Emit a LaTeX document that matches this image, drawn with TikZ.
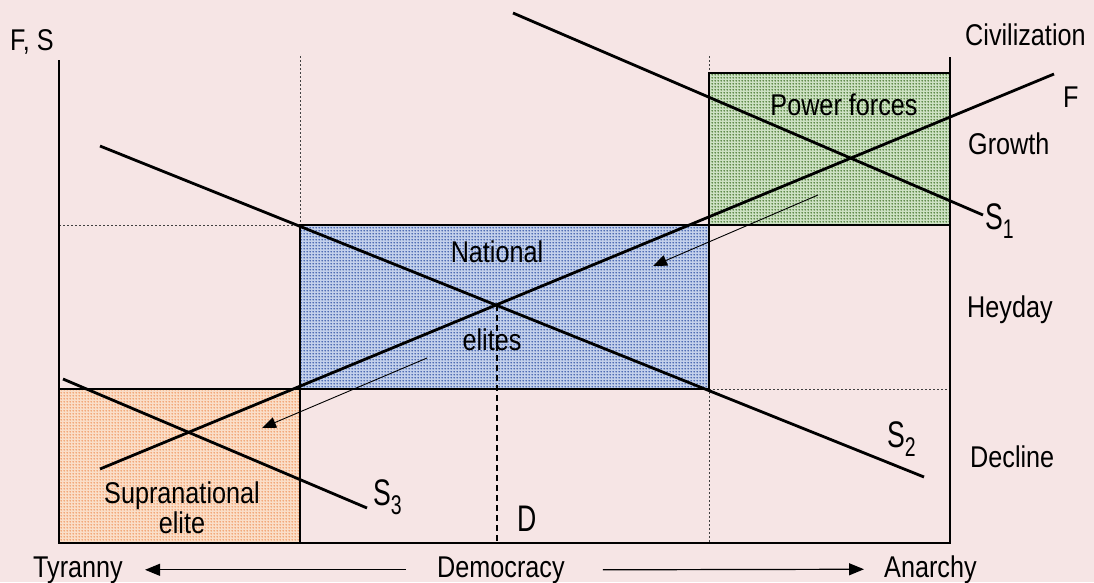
\documentclass[tikz,border=0pt]{standalone}
\usepackage{fontspec}
\setmainfont{Liberation Sans}[FakeStretch=0.84]
\newfontfamily\narrowsans{Liberation Sans}[FakeStretch=0.72]
\usepackage{tikz}
\usepackage{xcolor}
\usetikzlibrary{arrows.meta,patterns}

\definecolor{bgpink}{RGB}{246,229,229}
\definecolor{greenbg}{RGB}{205,225,195}
\definecolor{dotgreen}{RGB}{60,110,35}
\definecolor{bluebg}{RGB}{195,208,235}
\definecolor{dotblue}{RGB}{40,75,160}
\definecolor{orangebg}{RGB}{250,222,200}
\definecolor{dotorange}{RGB}{240,150,95}

\pgfdeclarepatternformonly{finedots}{\pgfpointorigin}{\pgfpoint{3pt}{3pt}}{\pgfpoint{3pt}{3pt}}{\pgfpathcircle{\pgfpoint{1.5pt}{1.5pt}}{1pt}\pgfusepath{fill}}
\newcommand{\slab}[1]{S\raisebox{-9pt}{\fontsize{27}{27}\selectfont #1}}

\tikzset{
  lbl/.style={font=\fontsize{30}{32}\selectfont, inner sep=0pt, anchor=base west},
  slbl/.style={font=\narrowsans\fontsize{37}{38}\selectfont, inner sep=0pt, anchor=base west},
  zone/.style 2 args={line width=1.8pt, preaction={fill=#1}, pattern=finedots, pattern color=#2},
  curve/.style={line width=2.8pt},
  guide/.style={line width=0.8pt, black!75, dash pattern=on 2pt off 2pt},
  powershift/.style={line width=0.9pt, -{Triangle[length=14pt,width=11pt]}},
  axisarrow/.style={line width=1.2pt, -{Triangle[length=15pt,width=12pt]}}
}

\begin{document}
\begin{tikzpicture}[x=1pt,y=-1pt]
  \fill[bgpink] (0,0) rectangle (1094,582);
  \useasboundingbox (0,0) rectangle (1094,582);
  % guide lines
  \draw[guide] (300,56) -- (300,543); \draw[guide] (709,56) -- (709,543);
  \draw[guide] (59,225) -- (300,225); \draw[guide] (709,389) -- (950,389);
  % zones
  \draw[zone={greenbg}{dotgreen}] (709,73) rectangle (950,225);
  \draw[zone={bluebg}{dotblue}] (300,225) rectangle (709,389);
  \draw[zone={orangebg}{dotorange}] (59,389) rectangle (300,543);
  % axes
  \draw[line width=2.4pt] (59,60) -- (59,543) -- (950,543) -- (950,57);
  % curves
  \coordinate (F0) at (100,469); \coordinate (F1) at (1054,74);
  \coordinate (Sa0) at (513,13); \coordinate (Sa1) at (983,215);
  \coordinate (Sb0) at (100,146); \coordinate (Sb1) at (924,477);
  \coordinate (Sc0) at (63,379); \coordinate (Sc1) at (367,508);
  \draw[curve] (F0) -- (F1); \draw[curve] (Sa0) -- (Sa1);
  \draw[curve] (Sb0) -- (Sb1); \draw[curve] (Sc0) -- (Sc1);
  \coordinate (cross) at (497,305); \coordinate (dfoot) at (497,543);
  \draw[line width=1.4pt, dash pattern=on 6pt off 4pt] (cross) -- (dfoot);
  % shifts of power
  \coordinate (p0) at (818,195); \coordinate (p1) at (653,266);
  \coordinate (q0) at (427,358); \coordinate (q1) at (262,428);
  \draw[powershift] (p0) -- (p1); \draw[powershift] (q0) -- (q1);
  % labels
  \node[lbl] (fs) at (10,50) {F, S};
  \node[lbl] (civ) at (965,45) {Civilization};
  \node[lbl] (flab) at (1063,107) {F};
  \node[lbl] (grow) at (968,154) {Growth};
  \node[slbl] (s1) at (985,229) {\slab{1}};
  \node[lbl] (hey) at (967,317) {Heyday};
  \node[slbl] (s2) at (887,447) {\slab{2}};
  \node[lbl] (dec) at (970,467) {Decline};
  \node[slbl] (s3) at (373,505) {\slab{3}};
  \node[slbl] (dlab) at (517,531) {D};
  \node[lbl, anchor=base] (pow) at (844,115) {Power forces};
  \node[lbl, anchor=base] (nat) at (497,262) {National};
  \node[lbl, anchor=base] (eli) at (492,350) {elites};
  \node[lbl, anchor=base] (sup) at (182,503) {Supranational};
  \node[lbl, anchor=base] (supb) at (182,533) {elite};
  \node[lbl] (tyr) at (33,577) {Tyranny};
  \node[lbl] (dem) at (437,577) {Democracy};
  \node[lbl] (ana) at (884,577) {Anarchy};
  \draw[axisarrow] ([xshift=-31pt]dem.west) -- ([xshift=22pt]tyr.east);
  \draw[axisarrow] ([xshift=38pt]dem.east) -- ([xshift=-20pt]ana.west);
\end{tikzpicture}
\end{document}
